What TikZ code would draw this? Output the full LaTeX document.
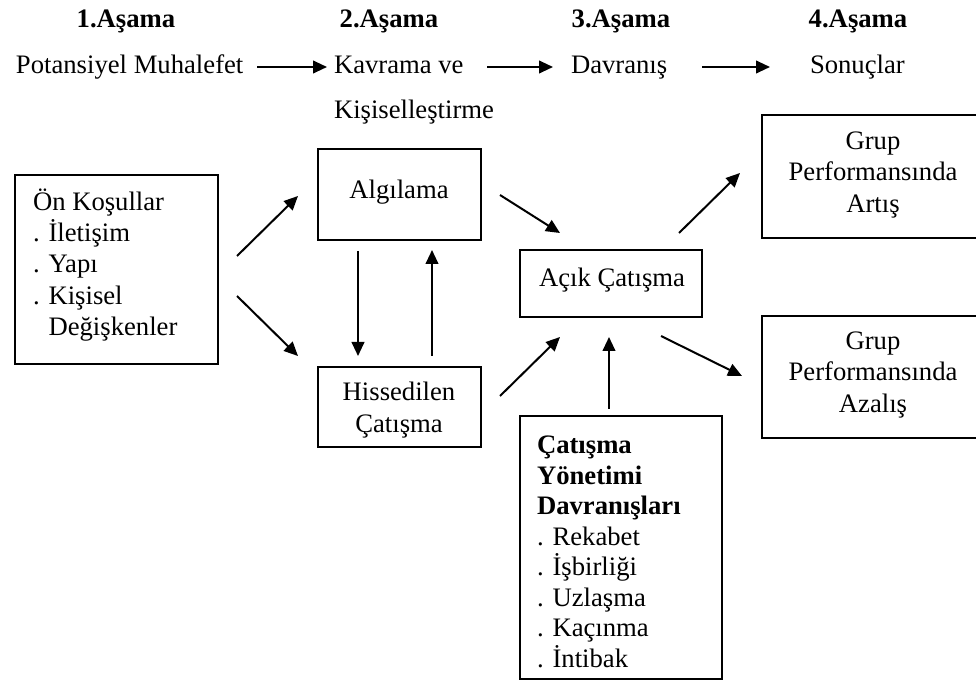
\documentclass[tikz,border=0pt]{standalone}
\usepackage{fontspec}
\setmainfont{Liberation Serif}
\usetikzlibrary{arrows.meta}
\tikzset{
  txt/.style={inner sep=0pt, outer sep=0pt, font=\fontsize{20pt}{23.4pt}\selectfont},
  head/.style={txt, font=\fontsize{20pt}{23.4pt}\selectfont\bfseries},
  box/.style={draw, line width=1.8pt, inner sep=0pt, outer sep=0pt},
  arr/.style={line width=1.5pt, -{Triangle[length=10.5pt,width=9.5pt]}},
}
\begin{document}
\begin{tikzpicture}[x=0.75pt, y=-0.75pt]
  \clip (0,0) rectangle (976,681);
  \useasboundingbox (0,0) rectangle (976,681);

  % stage headings
  \node[head, anchor=base] (h1) at (126,28) {1.Aşama};
  \node[head, anchor=base] (h2) at (389,28) {2.Aşama};
  \node[head, anchor=base] (h3) at (621,28) {3.Aşama};
  \node[head, anchor=base] (h4) at (858,28) {4.Aşama};

  % stage names
  \node[txt, anchor=base west] (pot) at (16,74) {Potansiyel Muhalefet};
  \node[txt, anchor=base west] (kav) at (334,74) {Kavrama ve};
  \node[txt, anchor=base west] (kis) at (334,119) {Kişiselleştirme};
  \node[txt, anchor=base west] (dav) at (571,74) {Davranış};
  \node[txt, anchor=base west] (son) at (810,74) {Sonuçlar};

  \coordinate (s1a) at (257,67); \coordinate (s1b) at (327,67);
  \coordinate (s2a) at (487,67); \coordinate (s2b) at (553,67);
  \coordinate (s3a) at (702,67); \coordinate (s3b) at (770,67);
  \draw[arr] (s1a) -- (s1b);
  \draw[arr] (s2a) -- (s2b);
  \draw[arr] (s3a) -- (s3b);

  % boxes
  \node[box, minimum width=152.25pt, minimum height=141.75pt] (onk) at (116.5,269.5) {};
  \node[box, minimum width=122.25pt, minimum height=68.25pt] (alg) at (399.5,194.5) {};
  \node[box, minimum width=122.25pt, minimum height=60pt] (his) at (399.5,407) {};
  \node[box, minimum width=136.5pt, minimum height=50.25pt] (acik) at (611,283.5) {};
  \node[box, minimum width=178.5pt, minimum height=92.25pt] (art) at (881,176.5) {};
  \node[box, minimum width=178.5pt, minimum height=91.5pt] (aza) at (881,377) {};
  \node[box, minimum width=151.5pt, minimum height=197.25pt] (cyd) at (621,547.5) {};

  % box texts
  \node[txt, anchor=west, align=left] (onkt) at (33,265)
    {Ön Koşullar\\. İletişim\\. Yapı\\. Kişisel\\\hphantom{. }Değişkenler};
  \node[txt] (algt) at (399,192) {Algılama};
  \node[txt, align=center] (hist) at (399,410) {Hissedilen\\Çatışma};
  \node[txt] (acikt) at (612,280) {Açık Çatışma};
  \node[txt, align=center] (artt) at (873,175) {Grup\\Performansında\\Artış};
  \node[txt, align=center] (azat) at (873,375) {Grup\\Performansında\\Azalış};
  \node[txt, anchor=west, align=left, font=\fontsize{20pt}{22.9pt}\selectfont] (cydt) at (537,552)
    {\textbf{Çatışma}\\\textbf{Yönetimi}\\\textbf{Davranışları}\\. Rekabet\\. İşbirliği\\. Uzlaşma\\. Kaçınma\\. İntibak};

  % connector ends
  \coordinate (oa1) at (237,256); \coordinate (oa2) at (298,196);
  \coordinate (oh1) at (237,296); \coordinate (oh2) at (298,356);
  \coordinate (ah1) at (358,251); \coordinate (ah2) at (358,356);
  \coordinate (ha1) at (432,356); \coordinate (ha2) at (432,250);
  \coordinate (ac1) at (500,195); \coordinate (ac2) at (560,233);
  \coordinate (hc1) at (500,396); \coordinate (hc2) at (560,337);
  \coordinate (yc1) at (609,409); \coordinate (yc2) at (609,337);
  \coordinate (cr1) at (679,233); \coordinate (cr2) at (740,173);
  \coordinate (cz1) at (661,336); \coordinate (cz2) at (742,376);

  \draw[arr] (oa1) -- (oa2);
  \draw[arr] (oh1) -- (oh2);
  \draw[arr] (ah1) -- (ah2);
  \draw[arr] (ha1) -- (ha2);
  \draw[arr] (ac1) -- (ac2);
  \draw[arr] (hc1) -- (hc2);
  \draw[arr] (yc1) -- (yc2);
  \draw[arr] (cr1) -- (cr2);
  \draw[arr] (cz1) -- (cz2);
\end{tikzpicture}
\end{document}
